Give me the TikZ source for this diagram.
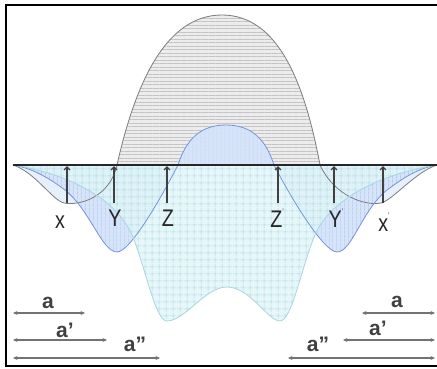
\documentclass[tikz,border=0pt]{standalone}
\usepackage{fontspec}
\setmainfont{Liberation Sans}
\usepackage{tikz}
\usetikzlibrary{arrows.meta,patterns.meta}
\usepackage{xcolor}
\definecolor{bellgray}{RGB}{236,236,236}
\definecolor{bellline}{RGB}{196,196,196}
\definecolor{belledge}{RGB}{125,125,125}
\definecolor{lobeblue}{RGB}{214,228,250}
\definecolor{lobeline}{RGB}{150,178,232}
\definecolor{lobeedge}{RGB}{118,148,220}
\definecolor{gridcyan}{RGB}{226,246,248}
\definecolor{gridline}{RGB}{160,212,222}
\definecolor{gridedge}{RGB}{168,214,222}
\newcommand{\pr}{\raisebox{0.55em}{\fontsize{8}{8}\selectfont '}}
\newcommand{\nar}[1]{\scalebox{0.82}[1]{#1}}
\newcommand{\xcurve}{(13,165) .. controls (35,172) and (52,200) .. (64,203)
  .. controls (80,206) and (110,197) .. (117,165)
  .. controls (135,85) and (165,15) .. (222,15)
  .. controls (279,15) and (305,85) .. (320,165)
  .. controls (335,197) and (366,206) .. (381,203)
  .. controls (393,200) and (415,172) .. (437,165)}
\newcommand{\ycurve}{(13,165) .. controls (30,168) and (45,175) .. (65,190)
  .. controls (90,210) and (102,252) .. (117,252)
  .. controls (130,252) and (160,200) .. (178,165)
  .. controls (186,140) and (200,125) .. (226,125)
  .. controls (252,125) and (266,140) .. (274,165)
  .. controls (292,200) and (324,252) .. (337,252)
  .. controls (352,252) and (362,210) .. (387,190)
  .. controls (407,175) and (420,168) .. (437,165)}
\newcommand{\zcurve}{(13,165) .. controls (60,172) and (115,195) .. (132,235)
  .. controls (145,265) and (155,321) .. (167,321)
  .. controls (185,321) and (205,287) .. (227,287)
  .. controls (250,287) and (268,321) .. (280,321)
  .. controls (292,321) and (302,265) .. (315,235)
  .. controls (332,195) and (390,172) .. (437,165)}
\tikzset{
  bellfill/.style ={fill=bellgray, postaction={pattern={Lines[angle=0,
                    distance=3.5pt,line width=0.5pt]}, pattern color=bellline}},
  xlobe/.style    ={fill=lobeblue!60},
  ylobe/.style    ={fill=lobeblue, postaction={pattern={Lines[angle=90,
                    distance=4pt,line width=0.5pt]}, pattern color=lobeline}},
  zlobe/.style    ={fill=gridcyan, fill opacity=0.8, postaction={
                    pattern={Hatch[angle=0,distance=6.5pt,line width=0.5pt]},
                    pattern color=gridline, fill opacity=0.8}},
  xedge/.style    ={draw=belledge, line width=0.8pt},
  yedge/.style    ={draw=lobeedge, line width=0.8pt},
  zedge/.style    ={draw=gridedge, line width=0.8pt},
  axis/.style     ={line width=2.4pt, black!85},
  uparr/.style    ={-{Straight Barb[length=3pt,width=6pt]}, line width=1.3pt,
                    black!75},
  span/.style     ={{Stealth[length=4.5pt,width=4pt]}-{Stealth[length=4.5pt,
                    width=4pt]}, line width=1.1pt, black!55},
  ptlab/.style    ={font=\fontsize{24}{24}\selectfont, text=black!85,
                    inner sep=0pt},
  alab/.style     ={font=\fontsize{21}{21}\selectfont\bfseries, text=black!75,
                    inner sep=0pt},
}
\begin{document}
\begin{tikzpicture}[x=1pt,y=-1pt]
  \useasboundingbox (0,0) rectangle (437,368);
  \fill[white] (0,0) rectangle (437,368);
  \begin{scope}
    \clip (0,0) rectangle (437,165);
    \path[bellfill] \xcurve -- cycle;
  \end{scope}
  \begin{scope}
    \clip (0,165) rectangle (437,368);
    \path[xlobe] \xcurve -- cycle;
  \end{scope}
  \path[ylobe] \ycurve -- cycle;
  \begin{scope}
    \clip (0,165) rectangle (437,368);
    \path[zlobe] \zcurve -- cycle;
  \end{scope}
  \draw[xedge] \xcurve;
  \draw[yedge] \ycurve;
  \draw[zedge] \zcurve;
  \coordinate (bl) at (13,165);
  \coordinate (br) at (437,165);
  \draw[axis] (bl) -- (br);
  \coordinate (xb) at (67,203);   \coordinate (xt) at (67,166);
  \coordinate (yb) at (114,203);  \coordinate (yt) at (114,166);
  \coordinate (zb) at (167,203);  \coordinate (zt) at (167,166);
  \coordinate (zpb) at (278,203); \coordinate (zpt) at (278,166);
  \coordinate (ypb) at (334,203); \coordinate (ypt) at (334,166);
  \coordinate (xpb) at (383,203); \coordinate (xpt) at (383,166);
  \draw[uparr] (xb) -- (xt);
  \draw[uparr] (yb) -- (yt);
  \draw[uparr] (zb) -- (zt);
  \draw[uparr] (zpb) -- (zpt);
  \draw[uparr] (ypb) -- (ypt);
  \draw[uparr] (xpb) -- (xpt);
  \node[ptlab] (lx) at (60,222) {\nar{x}};
  \node[ptlab] (ly) at (115,218) {\nar{Y}};
  \node[ptlab] (lz) at (168,218) {\nar{Z}};
  \node[ptlab] (lzp) at (277,218) {\nar{Z\pr}};
  \node[ptlab] (lyp) at (336,218) {\nar{Y\pr}};
  \node[ptlab] (lxp) at (384,222) {\nar{x\pr}};
  \coordinate (al1) at (13,313);  \coordinate (ar1) at (85,313);
  \coordinate (al2) at (13,340);  \coordinate (ar2) at (107,340);
  \coordinate (al3) at (13,358);  \coordinate (ar3) at (160,358);
  \coordinate (bl1) at (362,313); \coordinate (br1) at (435,313);
  \coordinate (bl2) at (343,340); \coordinate (br2) at (435,340);
  \coordinate (bl3) at (288,358); \coordinate (br3) at (435,358);
  \draw[span] (al1) -- (ar1);
  \draw[span] (al2) -- (ar2);
  \draw[span] (al3) -- (ar3);
  \draw[span] (bl1) -- (br1);
  \draw[span] (bl2) -- (br2);
  \draw[span] (bl3) -- (br3);
  \node[alab] (a1) at (48,303) {a};
  \node[alab] (a2) at (65,330) {a'};
  \node[alab] (a3) at (135,344) {a''};
  \node[alab] (b1) at (397,302) {a};
  \node[alab] (b2) at (378,328) {a'};
  \node[alab] (b3) at (318,344) {a''};
  \coordinate (ftr) at (437,5);  \coordinate (ftl) at (6,5);
  \coordinate (fbl) at (6,366);  \coordinate (fbr) at (437,366);
  \draw[line width=1.8pt] (ftr) -- (ftl) -- (fbl) -- (fbr);
\end{tikzpicture}
\end{document}
